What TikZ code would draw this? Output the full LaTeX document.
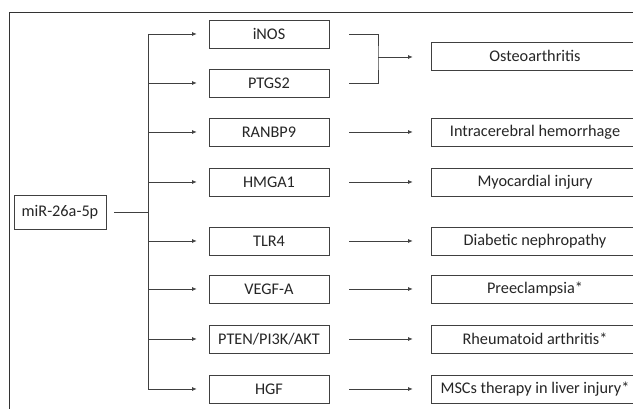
\documentclass[tikz,border=0pt]{standalone}
\usepackage{fontspec}
\setmainfont{Carlito}
\usetikzlibrary{arrows.meta}
\tikzset{gene/.style={draw=black!75, minimum width=90pt, minimum height=21pt,
         inner sep=0pt, text=black!85, font=\fontsize{12.2}{14}\selectfont},
         disease/.style={gene, minimum width=156pt},
         link/.style={draw=black!75, line width=0.6pt},
         arr/.style={link, -{Latex[length=3.5pt,width=3pt]}}}

\begin{document}
\begin{tikzpicture}[x=0.75pt, y=-0.75pt]
        \clip (0,0) rectangle (633,409);
        \fill[white] (0,0) rectangle (633,409);
        \draw[black!80, line width=0.6pt] (9,12) rectangle (700,460);

        % miRNA
        \node[gene, minimum width=69pt, minimum height=25.5pt] (mir) at (60,212) {miR-26a-5p};
        \coordinate (trunk) at (148,212);

        % Targets
        \node[gene] (inos)  at (269,34)  {iNOS};
        \node[gene] (ptgs)  at (269,83)  {PTGS2};
        \node[gene] (ranbp) at (269,132) {RANBP9};
        \node[gene] (hmga)  at (269,182) {HMGA1};
        \node[gene] (tlr)   at (269,241) {TLR4};
        \node[gene] (vegf)  at (269,289) {VEGF-A};
        \node[gene] (pten)  at (269,339) {PTEN/PI3K/AKT};
        \node[gene] (hgf)   at (269,389) {HGF};

        % Diseases
        \node[disease] (oa)  at (535,56)  {Osteoarthritis};
        \node[disease] (ich) at (535,132) {Intracerebral hemorrhage};
        \node[disease] (mi)  at (535,182) {Myocardial injury};
        \node[disease] (dn)  at (535,241) {Diabetic nephropathy};
        \node[disease] (pe)  at (535,289) {Preeclampsia*};
        \node[disease] (ra)  at (535,339) {Rheumatoid arthritis*};
        \node[disease] (msc) at (535,389) {MSCs therapy in liver injury*};

        % Trunk
        \draw[link, shorten <=6pt] (mir.east) -- (trunk);
        \draw[link] (trunk |- inos) -- (trunk |- hgf);
        \foreach \g in {inos,ptgs,ranbp,hmga,tlr,vegf,pten,hgf}
            \draw[arr, shorten >=9pt] (trunk |- \g) -- (\g.west);

        % Bracket for iNOS and PTGS2
        \coordinate (brk) at (378,57);
        \draw[link] ([xshift=15pt]inos.east) -| (brk) |- ([xshift=15pt]ptgs.east);
        \draw[arr, shorten >=13.5pt] (brk) -- (brk -| oa.west);

        \draw[arr, shorten <=15pt, shorten >=13.5pt] (ranbp.east) -- (ich.west);
        \draw[arr, shorten <=15pt, shorten >=13.5pt] (hmga.east) -- (mi.west);
        \draw[arr, shorten <=15pt, shorten >=13.5pt] (tlr.east) -- (dn.west);
        \draw[arr, shorten <=15pt, shorten >=13.5pt] (vegf.east) -- (pe.west);
        \draw[arr, shorten <=15pt, shorten >=13.5pt] (pten.east) -- (ra.west);
        \draw[arr, shorten <=15pt, shorten >=13.5pt] (hgf.east) -- (msc.west);
\end{tikzpicture}
\end{document}
